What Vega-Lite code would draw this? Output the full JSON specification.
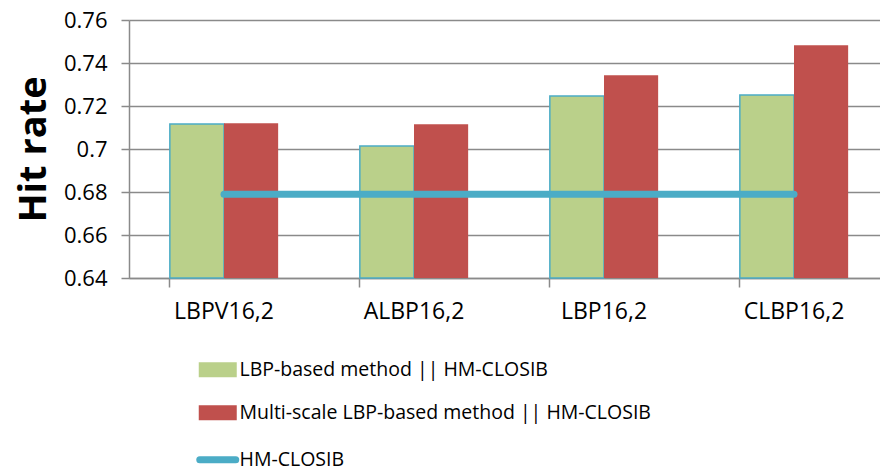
{
  "$schema": "https://vega.github.io/schema/vega-lite/v6.json",
  "autosize": "none",
  "width": 760,
  "height": 258,
  "padding": {"left": 129, "top": 20, "right": 0, "bottom": 190},
  "background": "white",
  "config": {
    "view": {"stroke": null},
    "font": "Open Sans",
    "axis": {"labelFont": "Open Sans", "labelColor": "#000", "titleColor": "#000", "domainColor": "#8a8a8a", "tickColor": "#8a8a8a", "gridColor": "#8a8a8a", "domainWidth": 1.5, "tickWidth": 1.5, "gridWidth": 1.5}
  },
  "data": {
    "values": [
      {"category": "LBPV16,2", "series": "LBP-based method || HM-CLOSIB", "value": 0.7116},
      {"category": "LBPV16,2", "series": "Multi-scale LBP-based method || HM-CLOSIB", "value": 0.712},
      {"category": "ALBP16,2", "series": "LBP-based method || HM-CLOSIB", "value": 0.7014},
      {"category": "ALBP16,2", "series": "Multi-scale LBP-based method || HM-CLOSIB", "value": 0.7115},
      {"category": "LBP16,2", "series": "LBP-based method || HM-CLOSIB", "value": 0.7247},
      {"category": "LBP16,2", "series": "Multi-scale LBP-based method || HM-CLOSIB", "value": 0.7343},
      {"category": "CLBP16,2", "series": "LBP-based method || HM-CLOSIB", "value": 0.7251},
      {"category": "CLBP16,2", "series": "Multi-scale LBP-based method || HM-CLOSIB", "value": 0.7482},
      {"category": "LBPV16,2", "series": "HM-CLOSIB", "value": 0.679},
      {"category": "ALBP16,2", "series": "HM-CLOSIB", "value": 0.679},
      {"category": "LBP16,2", "series": "HM-CLOSIB", "value": 0.679},
      {"category": "CLBP16,2", "series": "HM-CLOSIB", "value": 0.679}
    ]
  },
  "encoding": {
    "x": {
      "field": "category",
      "type": "nominal",
      "sort": ["LBPV16,2", "ALBP16,2", "LBP16,2", "CLBP16,2"],
      "scale": {"paddingInner": 0.43, "paddingOuter": 0.215},
      "axis": {"title": null, "labelAngle": 0, "labelFontSize": 23, "tickSize": 9, "bandPosition": 0, "labelPadding": 13, "domain": true, "grid": false}
    },
    "y": {
      "field": "value",
      "type": "quantitative",
      "scale": {"domain": [0.64, 0.76], "nice": false, "zero": false},
      "axis": {
        "title": "Hit rate",
        "values": [0.64, 0.66, 0.68, 0.7, 0.72, 0.74, 0.76],
        "format": ".2~f",
        "labelFontSize": 22,
        "tickSize": 8,
        "labelPadding": 14,
        "grid": true,
        "titleFont": "Open Sans",
        "titleFontSize": 38,
        "titleFontWeight": "bold",
        "titleX": -84,
        "titleY": 129,
        "titleAngle": 270,
        "titleAlign": "center",
        "titleBaseline": "alphabetic"
      }
    },
    "color": {
      "field": "series",
      "type": "nominal",
      "scale": {
        "domain": ["LBP-based method || HM-CLOSIB", "Multi-scale LBP-based method || HM-CLOSIB", "HM-CLOSIB"],
        "range": ["#BAD08A", "#C0504D", "#4BACC6"]
      },
      "legend": {
        "title": null,
        "orient": "none",
        "legendX": 79,
        "legendY": 340,
        "direction": "vertical",
        "symbolSize": 400,
        "labelFont": "Open Sans",
        "labelFontSize": 19.5,
        "labelColor": "#000",
        "labelOffset": 12,
        "rowPadding": 21,
        "labelLimit": 600,
        "encode": {
          "symbols": {
            "update": {
              "shape": {"signal": "datum.value === 'HM-CLOSIB' ? 'M-1.8,0H1.8' : 'M-1.8,-0.65H1.8V0.65H-1.8Z'"},
              "fill": {"signal": "datum.value === 'HM-CLOSIB' ? 'transparent' : (datum.value === 'LBP-based method || HM-CLOSIB' ? '#BAD08A' : '#C0504D')"},
              "stroke": {"signal": "datum.value === 'Multi-scale LBP-based method || HM-CLOSIB' ? '#C0504D' : '#4BACC6'"},
              "strokeWidth": {"signal": "datum.value === 'HM-CLOSIB' ? 7 : 2"},
              "strokeOpacity": {"value": 1},
              "fillOpacity": {"value": 1},
              "strokeCap": {"value": "round"},
              "opacity": {"value": 1}
            }
          }
        }
      }
    }
  },
  "layer": [
    {
      "transform": [{"filter": "datum.series !== 'HM-CLOSIB'"}],
      "mark": {"type": "bar", "strokeWidth": 1.5},
      "encoding": {
        "xOffset": {"field": "series", "type": "nominal", "sort": ["LBP-based method || HM-CLOSIB", "Multi-scale LBP-based method || HM-CLOSIB"], "scale": {"paddingInner": 0, "paddingOuter": 0}},
        "y2": {"datum": 0.64},
        "stroke": {
          "condition": {"test": "datum.series === 'LBP-based method || HM-CLOSIB'", "value": "#4BACC6"},
          "value": null
        }
      }
    },
    {
      "transform": [{"filter": "datum.series === 'HM-CLOSIB'"}],
      "mark": {"type": "line", "strokeWidth": 7, "strokeCap": "round"},
      "encoding": {}
    }
  ]
}
